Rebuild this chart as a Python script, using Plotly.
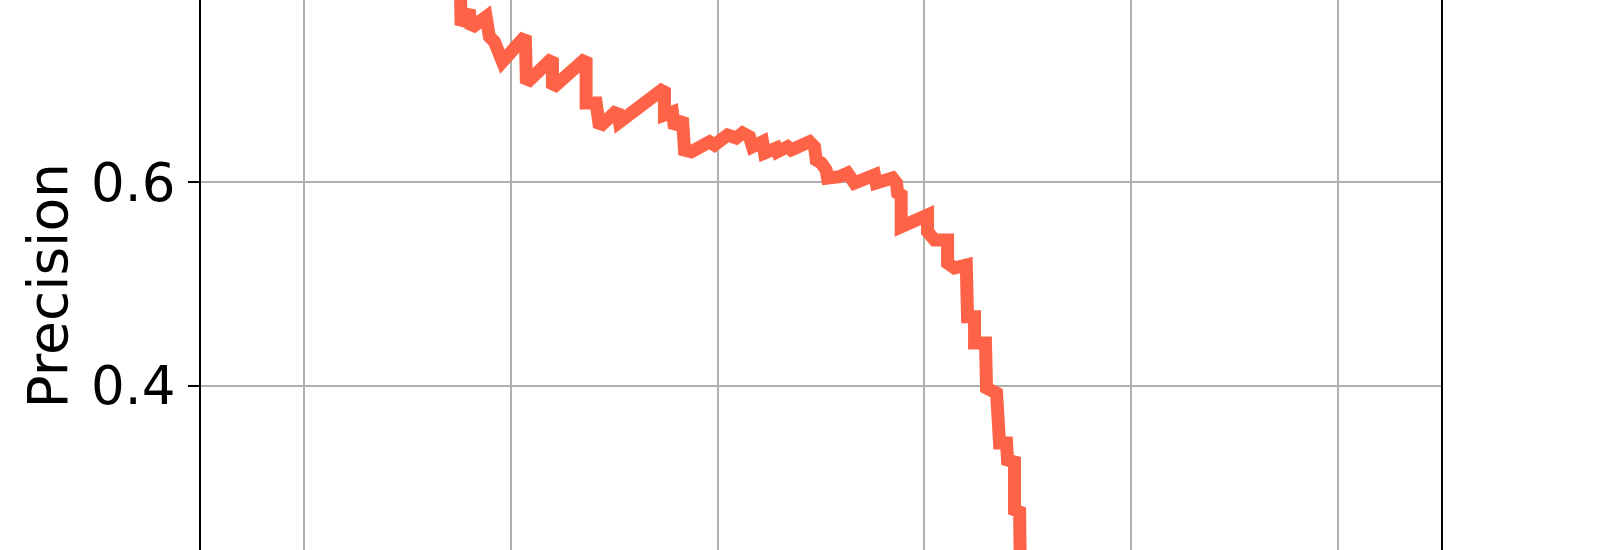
"""
Curva Precision-Recall (recorte de la figura)
"""

import plotly.graph_objects as go

# Datos
recall = [0.151, 0.1517, 0.1597, 0.1614, 0.1759, 0.1791, 0.1839, 0.1904, 0.1917,
          0.2139, 0.2149, 0.2401, 0.2401, 0.2727, 0.2727, 0.2824, 0.2856, 0.3030,
          0.3049, 0.3485, 0.3485, 0.3562, 0.3582, 0.3659, 0.3679, 0.3746, 0.3921,
          0.3969, 0.4095, 0.4179, 0.4240, 0.4308, 0.4337, 0.4434, 0.4453, 0.4566,
          0.4579, 0.4676, 0.4712, 0.4889, 0.4937, 0.4954, 0.5002, 0.5050, 0.5063,
          0.5179, 0.5257, 0.5324, 0.5518, 0.5534, 0.5692, 0.5731, 0.5741, 0.5776,
          0.5776, 0.6031, 0.6031, 0.6099, 0.6225, 0.6225, 0.6292, 0.6406, 0.6418,
          0.6486, 0.6486, 0.6592, 0.6602, 0.6699, 0.6728, 0.6796, 0.6805, 0.6873,
          0.6873, 0.6922, 0.6929]
precision = [0.794, 0.7547, 0.7694, 0.7517, 0.7628, 0.7432, 0.7383, 0.7235, 0.7186,
             0.7439, 0.6976, 0.7222, 0.6927, 0.7222, 0.6780, 0.6780, 0.6544, 0.6711,
             0.6593, 0.6927, 0.6662, 0.6691, 0.6534, 0.6632, 0.6318, 0.6301, 0.6399,
             0.6367, 0.6465, 0.6436, 0.6485, 0.6448, 0.6350, 0.6399, 0.6288, 0.6337,
             0.6301, 0.6350, 0.6318, 0.6399, 0.6350, 0.6219, 0.6190, 0.6121, 0.6042,
             0.6055, 0.6091, 0.5993, 0.6072, 0.5993, 0.6042, 0.5993, 0.5895, 0.5875,
             0.5563, 0.5678, 0.5514, 0.5433, 0.5433, 0.5206, 0.5157, 0.5187, 0.4678,
             0.4678, 0.4420, 0.4420, 0.3977, 0.3927, 0.3436, 0.3436, 0.3269, 0.3250,
             0.2778, 0.2758, 0.2188]

x_ticks = [0.0, 0.2, 0.4, 0.6, 0.8, 1.0]
y_ticks = [0.4, 0.6]
y_tick_labels = ['0.4', '0.6']

FONT = 'DejaVu Sans'

fig = go.Figure()

fig.add_trace(go.Scatter(
    x=recall,
    y=precision,
    mode='lines',
    line=dict(color='#ff6347', width=13),
    showlegend=False,
    hoverinfo='skip'
))

# Etiqueta del eje Y (la figura esta recortada, se coloca a mano)
fig.add_annotation(
    text='Precision',
    textangle=-90,
    xref='paper', yref='y',
    x=-0.123, y=0.498,
    xanchor='center', yanchor='middle',
    showarrow=False,
    font=dict(family=FONT, size=55, color='black')
)

fig.update_layout(
    width=1600,
    height=550,
    margin=dict(l=201, r=159, t=0, b=0),
    plot_bgcolor='white',
    paper_bgcolor='white',
    font=dict(family=FONT, color='black'),
    xaxis=dict(
        range=[-0.1, 1.1],
        tickvals=x_ticks,
        showticklabels=False,
        ticks='',
        showgrid=True,
        gridcolor='#b0b0b0',
        gridwidth=1.6,
        zeroline=False,
        showline=False
    ),
    yaxis=dict(
        range=[0.2384, 0.7793],
        tickvals=y_ticks,
        ticktext=y_tick_labels,
        tickfont=dict(family=FONT, size=53, color='black'),
        ticks='outside',
        ticklen=11,
        tickwidth=2,
        tickcolor='black',
        ticklabelstandoff=2,
        showgrid=True,
        gridcolor='#b0b0b0',
        gridwidth=1.6,
        zeroline=False,
        showline=True,
        linecolor='black',
        linewidth=2,
        mirror=True
    )
)

# quitar el margen por defecto del body para que la figura llene la ventana
fig.write_html('out.html', config={'displayModeBar': False},
               post_script="document.body.style.margin='0px';")
